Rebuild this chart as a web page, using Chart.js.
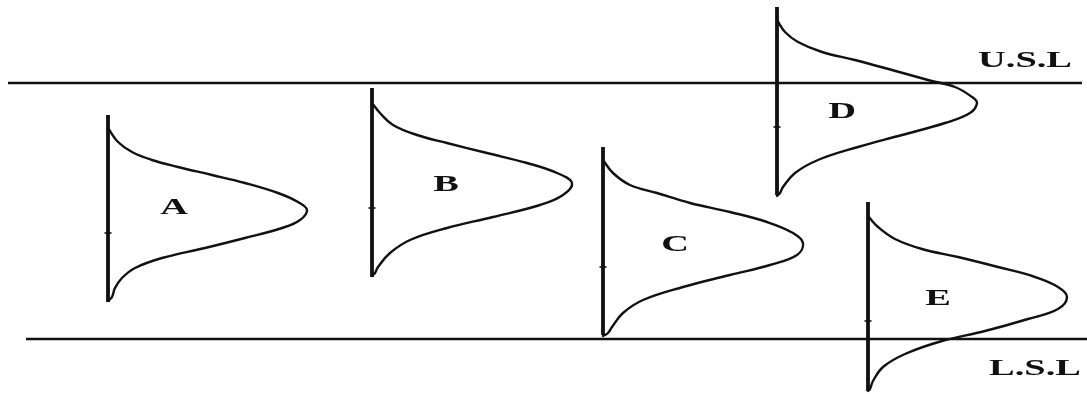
<!DOCTYPE html>
<html>
<head>
<meta charset="utf-8">
<script src="https://cdn.jsdelivr.net/npm/chart.js@4/dist/chart.umd.min.js"></script>
<style>
  html, body { margin: 0; padding: 0; background: #ffffff; }
  #wrap { width: 1087px; height: 394px; }
</style>
</head>
<body>
<div id="wrap"><canvas id="c" width="1087" height="394"></canvas></div>
<script>
// ---- Data (x: position of each process along the chart, y: measured value) ----
const categories = ['A', 'B', 'C', 'D', 'E'];
const baselineX = [10.8, 37.2, 60.3, 77.7, 86.8];
const baselineTop = [27.9, 30.6, 24.7, 38.7, 19.2];
const baselineBottom = [9.2, 11.7, 5.9, 19.9, 0.3];
const tickY = [16.1, 18.6, 12.7, 26.7, 7.3];
const labelX = [17.4, 44.6, 67.5, 84.2, 93.8];
const labelY = [18.6, 20.9, 14.9, 28.2, 9.5];

// distribution outlines: measured value vs. frequency (offset from baseline)
const measA = [26.6, 25.2, 24.2, 23.4, 22.7, 21.9, 21.1, 20.1, 19.2, 18.4, 17.4, 16.6, 15.6, 14.6, 13.6, 12.6, 11.6, 10.6, 9.7, 9.3];
const freqA = [0, 1.0, 2.4, 4.4, 7.0, 10.4, 13.7, 17.0, 19.0, 19.9, 19.2, 17.4, 13.7, 9.7, 5.4, 2.7, 1.4, 0.7, 0.4, 0];
const measB = [29.1, 28.1, 26.9, 25.9, 25.1, 24.1, 23.1, 22.1, 21.1, 19.9, 18.9, 17.7, 16.6, 15.4, 14.1, 12.7, 12.1, 11.8];
const freqB = [0, 0.8, 2.1, 4.5, 7.5, 11.5, 15.5, 18.5, 20.0, 19.1, 16.8, 12.1, 7.5, 3.8, 1.8, 0.6, 0.3, 0];
const measC = [23.4, 22.1, 20.9, 20.1, 19.1, 18.2, 17.2, 16.1, 15.1, 13.9, 12.9, 11.9, 10.7, 9.4, 8.1, 6.7, 6.1, 5.8];
const freqC = [0, 1.0, 2.7, 5.4, 8.7, 12.7, 16.4, 19.0, 20.0, 19.4, 16.7, 12.7, 8.0, 4.0, 2.0, 0.9, 0.5, 0];
const measD = [37.4, 36.2, 35.2, 34.2, 33.4, 32.4, 31.4, 30.7, 29.7, 29.1, 28.1, 27.1, 25.9, 24.7, 23.4, 22.1, 20.7, 20.1, 19.8];
const freqD = [0, 0.8, 2.1, 4.5, 7.8, 11.5, 15.1, 17.8, 19.5, 20.0, 19.3, 16.8, 12.5, 8.1, 4.1, 1.8, 0.6, 0.3, 0];
const measE = [17.8, 16.7, 15.5, 14.5, 13.7, 12.7, 11.7, 10.7, 9.7, 8.5, 7.5, 6.3, 5.3, 4.0, 2.7, 1.3, 0.5, 0.3];
const freqE = [0, 1.0, 2.7, 5.4, 9.0, 13.0, 16.7, 19.0, 19.9, 19.0, 16.0, 11.7, 7.4, 3.7, 1.5, 0.5, 0.2, 0];

// specification limits
const specNames = ['U.S.L', 'L.S.L'];
const specValues = [31.1, 5.5];
const specStart = [0.8, 2.6];
const specEnd = [108.2, 108.7];
const specLabelX = [102.5, 103.5];
const specLabelY = [33.3, 2.5];

// ---- Build datasets ----
const INK = '#111111';
const measAll = [measA, measB, measC, measD, measE];
const freqAll = [freqA, freqB, freqC, freqD, freqE];
const datasets = [];

specNames.forEach((n, i) => {
  datasets.push({
    label: n,
    data: [{x: specStart[i], y: specValues[i]}, {x: specEnd[i], y: specValues[i]}],
    showLine: true, borderColor: INK, borderWidth: 2.6, pointRadius: 0, tension: 0
  });
});

categories.forEach((c, i) => {
  datasets.push({
    label: c + ' axis',
    data: [{x: baselineX[i], y: baselineTop[i]}, {x: baselineX[i], y: baselineBottom[i]}],
    showLine: true, borderColor: INK, borderWidth: 3.8, pointRadius: 0, tension: 0
  });
  datasets.push({
    label: c,
    data: measAll[i].map((m, k) => ({x: baselineX[i] + freqAll[i][k], y: m})),
    showLine: true, borderColor: INK, borderWidth: 2.4, pointRadius: 0,
    tension: 0.4, borderCapStyle: 'round', borderJoinStyle: 'round'
  });
  datasets.push({
    label: c + ' tick',
    data: [{x: baselineX[i], y: tickY[i]}],
    showLine: false, pointStyle: 'line', pointRadius: 3.5,
    borderColor: INK, pointBorderWidth: 1.6, pointBorderColor: INK
  });
});

// ---- Text labels plugin (stretched serif lettering) ----
const labelPlugin = {
  id: 'labels',
  afterDatasetsDraw(chart) {
    const ctx = chart.ctx, xs = chart.scales.x, ys = chart.scales.y;
    const put = (txt, x, y) => {
      ctx.save();
      ctx.translate(xs.getPixelForValue(x), ys.getPixelForValue(y));
      ctx.scale(1.6, 1);
      ctx.font = 'bold 24px "Liberation Serif", "DejaVu Serif", serif';
      ctx.fillStyle = INK;
      ctx.textAlign = 'center';
      ctx.textBaseline = 'middle';
      ctx.fillText(txt, 0, 0);
      ctx.restore();
    };
    categories.forEach((c, i) => put(c, labelX[i], labelY[i]));
    specNames.forEach((n, i) => put(n, specLabelX[i], specLabelY[i]));
  }
};

new Chart(document.getElementById('c'), {
  type: 'scatter',
  data: { datasets },
  options: {
    responsive: false,
    animation: false,
    devicePixelRatio: 1,
    layout: { padding: 0, autoPadding: false },
    plugins: { legend: { display: false }, tooltip: { enabled: false } },
    elements: { line: { fill: false } },
    scales: {
      x: { type: 'linear', min: 0, max: 108.7, display: false },
      y: { type: 'linear', min: 0, max: 39.4, display: false }
    }
  },
  plugins: [labelPlugin]
});
</script>
</body>
</html>
